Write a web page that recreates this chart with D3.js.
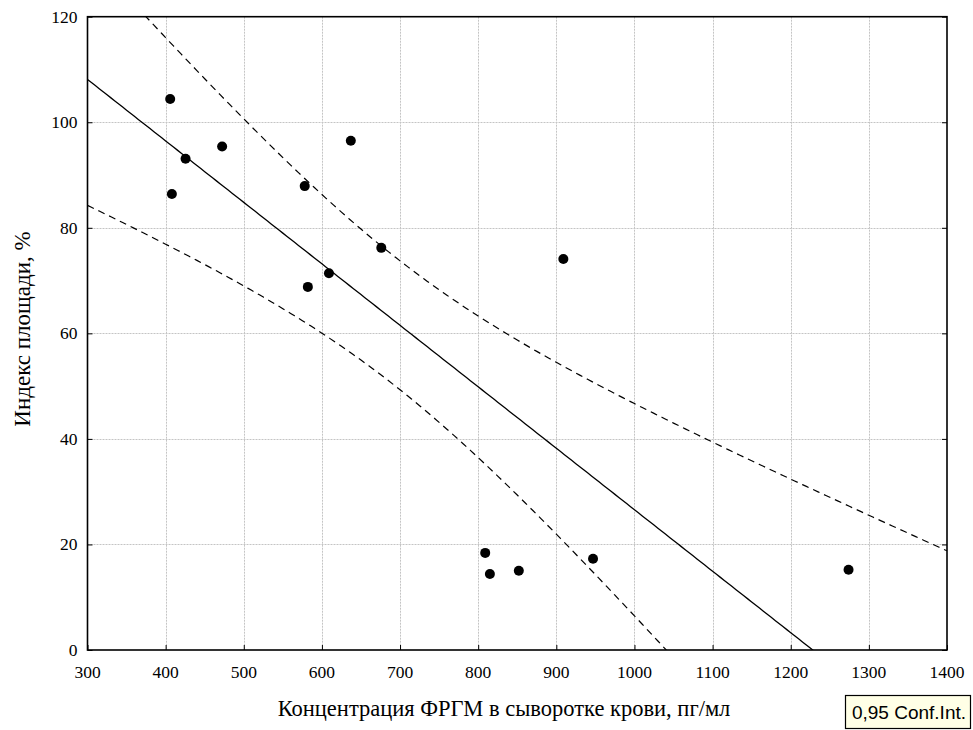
<!DOCTYPE html>
<html>
<head>
<meta charset="utf-8">
<script src="https://cdn.jsdelivr.net/npm/d3@7"></script>
<style>
  body { margin: 0; background: #fff; }
  svg { display: block; }
</style>
</head>
<body>
<div id="chart"></div>
<script>
// data
var conc = [405.8, 425.5, 472.3, 408, 578, 637, 609, 582, 676, 909, 809, 815, 852, 947, 1274]
var index = [104.4, 93.1, 95.4, 86.4, 87.9, 96.5, 71.4, 68.8, 76.2, 74.1, 18.4, 14.4, 15.0, 17.3, 15.2]
var xTicks = [300, 400, 500, 600, 700, 800, 900, 1000, 1100, 1200, 1300, 1400]
var yTicks = [0, 20, 40, 60, 80, 100, 120]
var tCrit = 2.1604 // t(0.975, n-2 = 13)

var W = 973, H = 730
var pLeft = 87.5, pRight = 947, pTop = 16.7, pBottom = 650

var svg = d3.select("#chart").append("svg").attr("width", W).attr("height", H)

var x = d3.scaleLinear().domain([300, 1400]).range([pLeft, pRight])
var y = d3.scaleLinear().domain([0, 120]).range([pBottom, pTop])

svg.append("defs").append("clipPath").attr("id", "plot")
    .append("rect").attr("x", pLeft).attr("y", pTop)
    .attr("width", pRight - pLeft).attr("height", pBottom - pTop)

// ======= grid =======
var grid = svg.append("g").attr("stroke", "#c4c4c4").attr("stroke-width", 1).attr("stroke-dasharray", "2,1")
grid.selectAll(".vx").data(xTicks.slice(1, -1)).enter().append("line")
    .attr("x1", d => Math.round(x(d)) + 0.5).attr("x2", d => Math.round(x(d)) + 0.5)
    .attr("y1", pTop).attr("y2", pBottom)
grid.selectAll(".hy").data(yTicks.slice(1, -1)).enter().append("line")
    .attr("y1", d => Math.round(y(d)) + 0.5).attr("y2", d => Math.round(y(d)) + 0.5)
    .attr("x1", pLeft).attr("x2", pRight)

// ======= regression + 95% confidence band =======
var n = conc.length
var mx = d3.mean(conc), my = d3.mean(index)
var sxx = d3.sum(conc, d => (d - mx) * (d - mx))
var sxy = d3.sum(conc, (d, i) => (d - mx) * (index[i] - my))
var slope = sxy / sxx, icpt = my - slope * mx
var sse = d3.sum(conc, (d, i) => Math.pow(index[i] - (icpt + slope * d), 2))
var s = Math.sqrt(sse / (n - 2))
var xs = d3.range(300, 1400.1, 5)
var fit = xv => icpt + slope * xv
var half = xv => tCrit * s * Math.sqrt(1 / n + (xv - mx) * (xv - mx) / sxx)

var line = d3.line().x(d => x(d[0])).y(d => y(d[1]))
var plot = svg.append("g").attr("clip-path", "url(#plot)").attr("fill", "none").attr("stroke", "#000")

plot.append("path").datum(xs.map(v => [v, fit(v)]))
    .attr("d", line).attr("stroke-width", 1.3)
plot.append("path").datum(xs.map(v => [v, fit(v) + half(v)]))
    .attr("d", line).attr("stroke-width", 1.2).attr("stroke-dasharray", "7,5")
plot.append("path").datum(xs.map(v => [v, fit(v) - half(v)]))
    .attr("d", line).attr("stroke-width", 1.2).attr("stroke-dasharray", "7,5")

// ======= points =======
svg.append("g").selectAll("circle").data(conc).enter().append("circle")
    .attr("cx", d => x(d)).attr("cy", (d, i) => y(index[i])).attr("r", 5)
    .attr("fill", "#000")

// ======= frame & axes =======
svg.append("rect").attr("x", pLeft).attr("y", pTop)
    .attr("width", pRight - pLeft).attr("height", pBottom - pTop)
    .attr("fill", "none").attr("stroke", "#000").attr("stroke-width", 1.6)

var xAxis = svg.append("g").attr("transform", "translate(0," + pBottom + ")")
    .call(d3.axisTop(x).tickValues(xTicks).tickSize(5).tickFormat(""))
xAxis.select(".domain").remove()
svg.append("g").selectAll("text").data(xTicks).enter().append("text")
    .attr("x", d => x(d)).attr("y", pBottom + 28)
    .attr("text-anchor", "middle")
    .style("font-family", "'Liberation Serif', serif").style("font-size", "17.5px")
    .text(d => d)

var yAxis = svg.append("g").attr("transform", "translate(" + pLeft + ",0)")
    .call(d3.axisRight(y).tickValues(yTicks).tickSize(5).tickFormat(""))
yAxis.select(".domain").remove()
var yAxisR = svg.append("g").attr("transform", "translate(" + pRight + ",0)")
    .call(d3.axisLeft(y).tickValues(yTicks).tickSize(5).tickFormat(""))
yAxisR.select(".domain").remove()
svg.append("g").selectAll("text").data(yTicks).enter().append("text")
    .attr("x", pLeft - 10).attr("y", d => y(d) + 6)
    .attr("text-anchor", "end")
    .style("font-family", "'Liberation Serif', serif").style("font-size", "17.5px")
    .text(d => d)

// titles
svg.append("text").attr("x", 504).attr("y", 716).attr("text-anchor", "middle")
    .style("font-family", "'Liberation Serif', serif").style("font-size", "22.5px")
    .text("Концентрация ФРГМ в сыворотке крови, пг/мл")
svg.append("text").attr("transform", "translate(30,329) rotate(-90)").attr("text-anchor", "middle")
    .style("font-family", "'Liberation Serif', serif").style("font-size", "23px")
    .text("Индекс площади, %")

// legend box
var lg = svg.append("g")
lg.append("rect").attr("x", 845.5).attr("y", 695.5).attr("width", 125).attr("height", 33)
    .attr("fill", "#ffffe6").attr("stroke", "#000").attr("stroke-width", 1.2)
lg.append("text").attr("x", 909).attr("y", 719).attr("text-anchor", "middle")
    .style("font-family", "'Liberation Sans', Arial, sans-serif").style("font-size", "19px")
    .text("0,95 Conf.Int.")
</script>
</body>
</html>
